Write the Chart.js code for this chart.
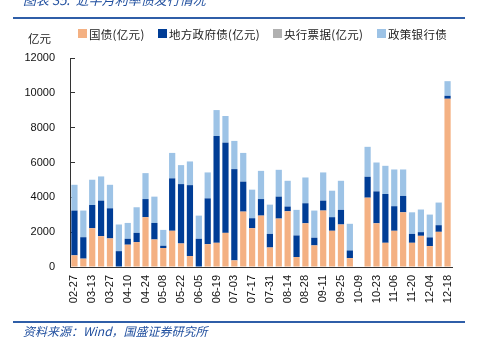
<!DOCTYPE html>
<html>
<head>
<meta charset="utf-8">
<script src="https://cdn.jsdelivr.net/npm/chart.js@4/dist/chart.umd.min.js"></script>
<style>
  body { margin: 0; background: #fff; }
  #wrap { position: absolute; left: 0; top: 0; width: 481px; height: 351px; overflow: hidden; }
  #box { position: absolute; left: 0; top: 0; width: 481px; height: 351px; }
  .t { position: absolute; font-family: "Noto Sans CJK SC", sans-serif; white-space: nowrap; }
  .rule { position: absolute; left: 13px; width: 452px; height: 2px; background: #2f5ea8; }
  .sw { position: absolute; width: 9px; height: 9px; top: 29px; }
  .lg { top: 26px; font-size: 11.5px; color: #222; letter-spacing: 0.3px; }
</style>
</head>
<body>
<div id="wrap">
  <div id="box"><canvas id="grafico"></canvas></div>
  <div class="t" style="left:23px;top:-10px;font-size:13px;font-style:italic;color:#1f4e9e;">图表 35:&nbsp; 近半月利率债发行情况</div>
  <div class="rule" style="top:17px;"></div>
  <div class="t" style="left:28px;top:30px;font-size:11.5px;color:#222;">亿元</div>
  <div id="leyenda"></div>
  <div class="rule" style="top:321px;"></div>
  <div class="t" style="left:23px;top:322px;font-size:12px;font-style:italic;color:#1f4e9e;">资料来源：Wind，国盛证券研究所</div>
</div>
<script>
// semanas (cada dos se rotula)
const fechas = ['02-27','03-06','03-13','03-20','03-27','04-03','04-10','04-17','04-24','05-01',
  '05-08','05-15','05-22','05-29','06-05','06-12','06-19','06-26','07-03','07-10',
  '07-17','07-24','07-31','08-07','08-14','08-21','08-28','09-04','09-11','09-18',
  '09-25','10-02','10-09','10-16','10-23','10-30','11-06','11-13','11-20','11-27',
  '12-04','12-11','12-18'];

const nombresSeries = ['国债(亿元)', '地方政府债(亿元)', '央行票据(亿元)', '政策银行债'];

const guozhai = [670,480,2230,1770,1640,0,1280,1430,2860,1580,
  1090,2080,1350,630,0,1310,1390,1960,380,3180,
  2230,2950,1120,2780,3200,570,2510,1240,3240,2080,
  2440,510,0,3980,2510,1390,2080,3140,1390,1790,
  1200,2020,9660];

const difang = [2570,1230,1330,2040,1730,910,340,530,1040,950,
  130,3010,3410,4070,1620,2630,6130,5180,5240,1720,
  570,950,780,1260,270,1240,1150,440,570,780,
  840,440,0,1200,1830,2800,1410,940,510,210,
  500,380,170];

const yangpiao = [0,0,0,0,0,0,0,0,0,0,
  0,0,0,0,0,0,0,0,0,0,
  0,0,0,0,0,0,0,0,0,0,
  0,0,0,0,0,0,0,0,0,0,
  0,0,0];

const zhengce = [1480,1530,1450,1390,1350,1530,910,1470,1490,1510,
  910,1460,1090,1360,1330,1490,1490,1530,1620,1650,
  1640,1620,1680,1540,1480,1470,1480,1560,1620,1520,
  1670,1530,0,1720,1660,1620,2110,1520,1240,1300,
  1310,1300,840];

const ejeY = [0, 2000, 4000, 6000, 8000, 10000, 12000];

const colores = ['#f4b183', '#003d96', '#b0b0b0', '#9dc3e6'];

// leyenda en html
const posLeyenda = [78, 158, 273, 377];
const leyenda = document.getElementById('leyenda');
nombresSeries.forEach(function(n, i) {
  const sw = document.createElement('div');
  sw.className = 'sw';
  sw.style.left = posLeyenda[i] + 'px';
  sw.style.background = colores[i];
  leyenda.appendChild(sw);
  const tx = document.createElement('div');
  tx.className = 't lg';
  tx.style.left = (posLeyenda[i] + 11) + 'px';
  tx.textContent = n;
  leyenda.appendChild(tx);
});

const series = [guozhai, difang, yangpiao, zhengce];

new Chart(document.getElementById('grafico'), {
  type: 'bar',
  data: {
    labels: fechas,
    datasets: series.map(function(d, i) {
      return {
        label: nombresSeries[i],
        data: d,
        backgroundColor: colores[i],
        borderWidth: 0,
        categoryPercentage: 0.7,
        barPercentage: 1
      };
    })
  },
  options: {
    responsive: true,
    maintainAspectRatio: false,
    animation: false,
    layout: { padding: { left: 20, right: 29, top: 58, bottom: 0 } },
    plugins: { legend: { display: false }, tooltip: { enabled: false } },
    scales: {
      x: {
        stacked: true,
        afterFit: function(s) { s.height = 84; },
        grid: { display: false, drawTicks: false },
        border: { display: true, color: '#333', width: 1 },
        ticks: {
          autoSkip: false,
          minRotation: 90,
          maxRotation: 90,
          padding: 8,
          color: '#111',
          font: { family: 'Liberation Sans', size: 11 },
          callback: function(v, i) { return i % 2 === 0 ? fechas[i] : ''; }
        }
      },
      y: {
        stacked: true,
        min: ejeY[0],
        max: ejeY[ejeY.length - 1],
        afterFit: function(s) { s.width = 50; },
        afterBuildTicks: function(s) { s.ticks = ejeY.map(function(v) { return { value: v }; }); },
        grid: { drawOnChartArea: false, drawTicks: true, tickLength: -5, color: '#333' },
        border: { display: true, color: '#333', width: 1 },
        ticks: {
          padding: 20,
          color: '#111',
          font: { family: 'Liberation Sans', size: 11 },
          callback: function(v) { return String(v); }
        }
      }
    }
  }
});
</script>
</body>
</html>
